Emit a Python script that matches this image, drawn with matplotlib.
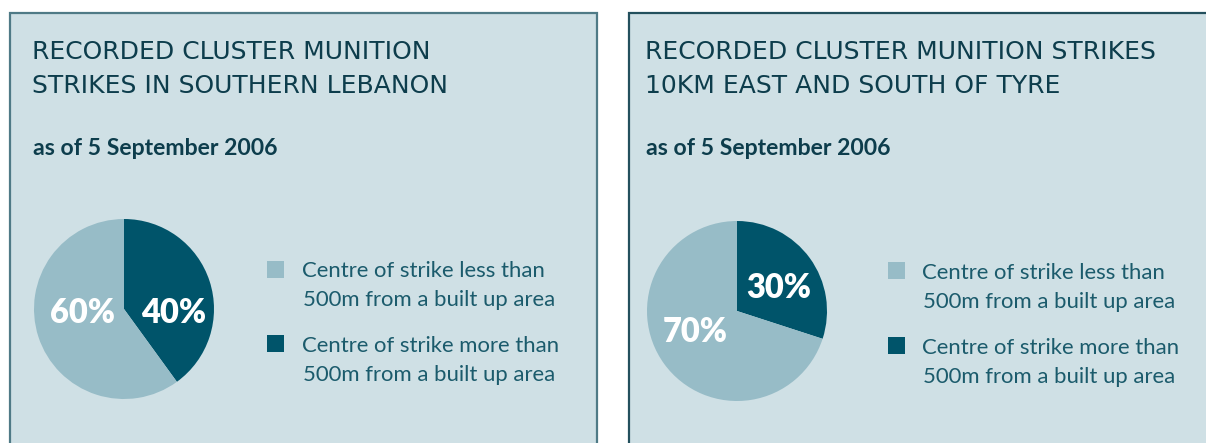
import matplotlib
matplotlib.use("Agg")
import matplotlib.pyplot as plt
from matplotlib.patches import Rectangle

# Chart data
titles = [
    ["RECORDED CLUSTER MUNITION", "STRIKES IN SOUTHERN LEBANON"],
    ["RECORDED CLUSTER MUNITION STRIKES", "10KM EAST AND SOUTH OF TYRE"],
]
subtitle = "as of 5 September 2006"
categories = [
    ["Centre of strike less than", "500m from a built up area"],
    ["Centre of strike more than", "500m from a built up area"],
]
# share of strikes: [less than 500m, more than 500m]
lebanon = [60, 40]
tyre = [70, 30]

# Colours
BG = "#cfe0e5"
LIGHT = "#97bcc7"
DARK = "#00546a"
TITLE_C = "#0d3d4c"
TEXT_C = "#1b5b6c"

W, H = 1206, 443

def fx(x):
    return x / W

def fy(y):
    return 1 - y / H

fig = plt.figure(figsize=(W / 100, H / 100), dpi=100)
fig.patch.set_facecolor("white")

# Panel boxes (open at bottom / right like the cropped original)
fig.add_artist(Rectangle((fx(10), fy(470)), fx(597) - fx(10), fy(13) - fy(470),
                         transform=fig.transFigure, facecolor=BG,
                         edgecolor="#4f7a86", linewidth=1.6, zorder=-10))
fig.add_artist(Rectangle((fx(629), fy(470)), fx(1240) - fx(629), fy(13) - fy(470),
                         transform=fig.transFigure, facecolor=BG,
                         edgecolor="#23505d", linewidth=1.6, zorder=-10))

# per panel layout: title x, pie centre, legend x, legend rows
panels = [
    dict(data=lebanon, title=titles[0], x0=32, cx=124, cy=309, r=90,
         lab_off=[(-0.46, -0.04), (0.55, -0.04)],
         sq_x=267, txt_x=302, rows=[(261, 277, 306), (335, 352, 381)]),
    dict(data=tyre, title=titles[1], x0=645, cx=737, cy=311, r=90,
         lab_off=[(-0.46, -0.23), (0.46, 0.26)],
         sq_x=888, txt_x=922, rows=[(262, 279, 308), (337, 354, 383)]),
]

for p in panels:
    # title + subtitle
    fig.text(fx(p["x0"]), fy(59), p["title"][0], fontsize=18, color=TITLE_C,
             family="DejaVu Sans", va="baseline")
    fig.text(fx(p["x0"]), fy(93), p["title"][1], fontsize=18, color=TITLE_C,
             family="DejaVu Sans", va="baseline")
    fig.text(fx(p["x0"] + 1), fy(155), subtitle, fontsize=16.6, color=TITLE_C,
             family="Lato", weight="bold", va="baseline")

    # pie
    r = p["r"]
    ax = fig.add_axes([fx(p["cx"] - r), fy(p["cy"] + r), 2 * r / W, 2 * r / H])
    vals = p["data"]
    # dark slice (more than 500m) starts at 12 o'clock, clockwise
    ax.pie([vals[1], vals[0]], colors=[DARK, LIGHT], startangle=90,
           counterclock=False, wedgeprops=dict(linewidth=0))
    ax.set_xlim(-1, 1)
    ax.set_ylim(-1, 1)
    ax.set_aspect("auto")
    ax.axis("off")
    for v, (ox, oy) in zip(vals, p["lab_off"]):
        ax.text(ox, oy, f"{v}%", color="white", fontsize=23.5, family="Lato",
                weight="heavy", ha="center", va="center")

    # legend
    for (sq_top, b1, b2), cat, col in zip(p["rows"], categories, [LIGHT, DARK]):
        fig.add_artist(Rectangle((fx(p["sq_x"]), fy(sq_top + 17)), 17 / W, 17 / H,
                                 transform=fig.transFigure, facecolor=col,
                                 edgecolor="none"))
        fig.text(fx(p["txt_x"]), fy(b1), cat[0], fontsize=15.9, color=TEXT_C,
                 family="Lato", va="baseline")
        fig.text(fx(p["txt_x"] + 1), fy(b2), cat[1], fontsize=15.9, color=TEXT_C,
                 family="Lato", va="baseline")

fig.savefig("out.png", dpi=100)
